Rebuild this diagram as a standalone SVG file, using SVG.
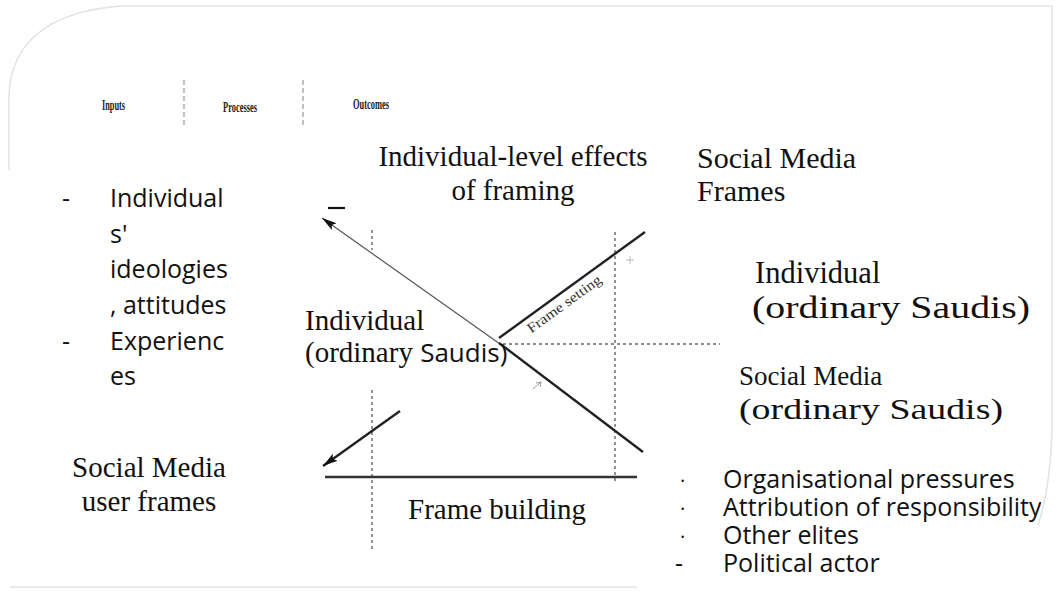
<svg xmlns="http://www.w3.org/2000/svg" width="1057" height="602" viewBox="0 0 1057 602">
  <style>
    .serif { font-family: "Liberation Serif", "Times New Roman", serif; font-size: 29px; fill: #111; }
    .sans { font-family: "Open Sans", "Liberation Sans", sans-serif; font-size: 25px; fill: #111; }
    .hdr { font-family: "Liberation Serif", "Times New Roman", serif; font-size: 14px; font-weight: bold; fill: #222; }
    .border { fill: none; stroke: #e2e2e2; stroke-width: 1.5; }
    .dash { fill: none; stroke: #666; stroke-width: 1.4; stroke-dasharray: 3 3; }
    .dashl { fill: none; stroke: #999; stroke-width: 1.2; stroke-dasharray: 5 3; }
    .thin { fill: none; stroke: #555; stroke-width: 1.2; }
    .thick { fill: none; stroke: #222; stroke-width: 2.4; }
  </style>
  <defs>
    <marker id="ah" markerUnits="userSpaceOnUse" markerWidth="16" markerHeight="10" refX="15" refY="5" orient="auto">
      <path d="M0,0.8 L15,5 L0,9.2 L3,5 z" fill="#111"/>
    </marker>
    <clipPath id="clipR">
      <rect x="0" y="0" width="1041" height="602"/>
    </clipPath>
  </defs>
  <rect width="1057" height="602" fill="#fff"/>

  <g id="frame">
    <path class="border" d="M 9 170 L 9 95 C 11 45 45 12 120 6 L 1052 6 L 1052 430 Q 1050 490 1038 525"/>
    <path class="border" d="M 10 587 L 637 587"/>
  </g>

  <g id="headers">
    <text class="hdr" x="102" y="110" textLength="23" lengthAdjust="spacingAndGlyphs">Inputs</text>
    <text class="hdr" x="223" y="112" textLength="34" lengthAdjust="spacingAndGlyphs">Processes</text>
    <text class="hdr" x="353" y="109" textLength="36" lengthAdjust="spacingAndGlyphs">Outcomes</text>
    <path class="dashl" d="M 184 80 L 184 128"/>
    <path class="dashl" d="M 303 80 L 303 128"/>
  </g>

  <g id="connectors">
    <path class="dash" d="M 372 230 L 372 250"/>
    <path class="dash" d="M 372 390 L 372 550"/>
    <path class="dash" d="M 615 232 L 615 484"/>
    <path class="dash" d="M 503 344 L 720 344"/>
    <path class="thin" d="M 500 344 L 322 218" marker-end="url(#ah)"/>
    <path class="thick" d="M 499 343 L 643 452"/>
    <path d="M 328 208 L 345 208" stroke="#111" stroke-width="2.2"/>
    <path class="thick" d="M 499 338 L 645 232"/>
    <path class="thick" d="M 400 411 L 323 466" marker-end="url(#ah)"/>
    <path d="M 325 477 L 637 477" stroke="#333" stroke-width="2.6" fill="none"/>
    <path d="M 533 389 L 541 382 M 536 383 L 541 382 L 540 387" stroke="#999" stroke-width="1" fill="none"/>
    <path d="M 626 260 L 634 260 M 630 256 L 630 264" stroke="#bbb" stroke-width="1" fill="none"/>
  </g>

  <g id="frame-setting-label">
    <text x="565" y="305" transform="rotate(-36 565 305)" text-anchor="middle" dominant-baseline="middle" font-family="Liberation Serif, serif" font-size="14" fill="#333" textLength="88" lengthAdjust="spacingAndGlyphs">Frame setting</text>
  </g>

  <g id="node-inputs-list">
    <text class="sans" x="62" y="207">-</text>
    <text class="sans" x="110" y="207">Individual</text>
    <text class="sans" x="110" y="243">s'</text>
    <text class="sans" x="110" y="278">ideologies</text>
    <text class="sans" x="110" y="314">, attitudes</text>
    <text class="sans" x="62" y="350">-</text>
    <text class="sans" x="110" y="350">Experienc</text>
    <text class="sans" x="110" y="385">es</text>
  </g>

  <g id="node-individual-effects">
    <text class="serif" x="513" y="166" text-anchor="middle">Individual-level effects</text>
    <text class="serif" x="513" y="200" text-anchor="middle">of framing</text>
  </g>

  <g id="node-social-media-frames">
    <text class="serif" x="697" y="168" style="font-size:30px">Social Media</text>
    <text class="serif" x="697" y="201" style="font-size:30px">Frames</text>
  </g>

  <g id="node-individual-right">
    <text class="serif" x="755" y="283" style="font-size:30.5px">Individual</text>
    <text class="serif" x="752" y="318" style="font-size:32px" textLength="278" lengthAdjust="spacingAndGlyphs">(ordinary Saudis)</text>
  </g>

  <g id="node-social-media-right">
    <text class="serif" x="739" y="385" style="font-size:27px">Social Media</text>
    <text class="serif" x="739" y="419" style="font-size:30px" textLength="264" lengthAdjust="spacingAndGlyphs">(ordinary Saudis)</text>
  </g>

  <g id="node-individual-mid">
    <text class="serif" x="305" y="330">Individual</text>
    <text class="serif" x="305" y="362">(ordinary <tspan style="font-family:'Open Sans',sans-serif;font-size:26px">Saudis)</tspan></text>
  </g>

  <g id="node-user-frames">
    <text class="serif" x="149" y="477" text-anchor="middle">Social Media</text>
    <text class="serif" x="149" y="511" text-anchor="middle">user frames</text>
  </g>

  <g id="node-frame-building">
    <text class="serif" x="408" y="519">Frame building</text>
  </g>

  <g id="node-outcome-list" clip-path="url(#clipR)">
    <text class="sans" x="680" y="488" style="font-size:20px">·</text>
    <text class="sans" x="723" y="488">Organisational pressures</text>
    <text class="sans" x="680" y="516" style="font-size:20px">·</text>
    <text class="sans" x="723" y="516">Attribution of responsibility</text>
    <text class="sans" x="680" y="544" style="font-size:20px">·</text>
    <text class="sans" x="723" y="544">Other elites</text>
    <text class="sans" x="675" y="572">-</text>
    <text class="sans" x="723" y="572">Political actor</text>
  </g>
</svg>
